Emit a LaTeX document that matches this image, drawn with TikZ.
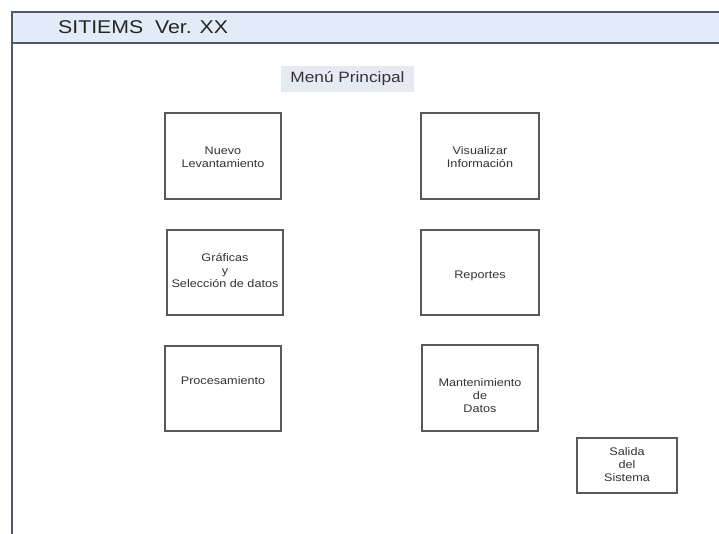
\documentclass[tikz,border=0pt]{standalone}
\usepackage{fontspec}
\setmainfont{Liberation Sans}[FakeStretch=1.15]
\begin{document}
\begin{tikzpicture}[x=1pt,y=-1pt,
  framecol/.style={draw=framegray, line width=1.6pt},
  menubox/.style={draw=black!65, line width=1.4pt, fill=white},
  lbl/.style={align=center, text=black!80, font=\fontsize{11}{13}\selectfont, inner sep=0pt}]
\definecolor{barfill}{HTML}{E2ECF8}
\definecolor{menufill}{HTML}{E6EBF3}
\definecolor{framegray}{HTML}{505A66}
\useasboundingbox[fill=white] (0,0) rectangle (719,534);
% window frame and title bar
\fill[barfill] (12,12) rectangle (719,43);
\draw[framecol] (719,12) -- (12,12) -- (12,534);
\draw[framecol] (12,43) -- (719,43);
\node[anchor=west, inner sep=0pt, text=black!85, font=\fontsize{18.5}{21}\selectfont] (title) at (58,27) {SITIEMS\ \ Ver. XX};
% heading
\node[fill=menufill, minimum width=133pt, minimum height=26pt, inner sep=0pt, text=black!80, font=\fontsize{15}{17}\selectfont] (menu) at (347.5,79) {Menú Principal};
% menu buttons
\draw[menubox] (165,113) rectangle (281,199);
\node[lbl] (nuevo) at (223,157) {Nuevo\\Levantamiento};
\draw[menubox] (421,113) rectangle (539,199);
\node[lbl] (visual) at (480,157) {Visualizar\\Información};
\draw[menubox] (167,230) rectangle (283,315);
\node[lbl] (graf) at (225,270.5) {Gráficas\\y\\Selección de datos};
\draw[menubox] (421,230) rectangle (539,315);
\node[lbl] (rep) at (480,276) {Reportes};
\draw[menubox] (165,346) rectangle (281,431);
\node[lbl] (proc) at (223,381) {Procesamiento};
\draw[menubox] (422,345) rectangle (538,431);
\node[lbl] (mant) at (480,396) {Mantenimiento\\de\\Datos};
\draw[menubox] (577,438) rectangle (677,493);
\node[lbl] (salida) at (627,464.5) {Salida\\del\\Sistema};
\end{tikzpicture}
\end{document}
